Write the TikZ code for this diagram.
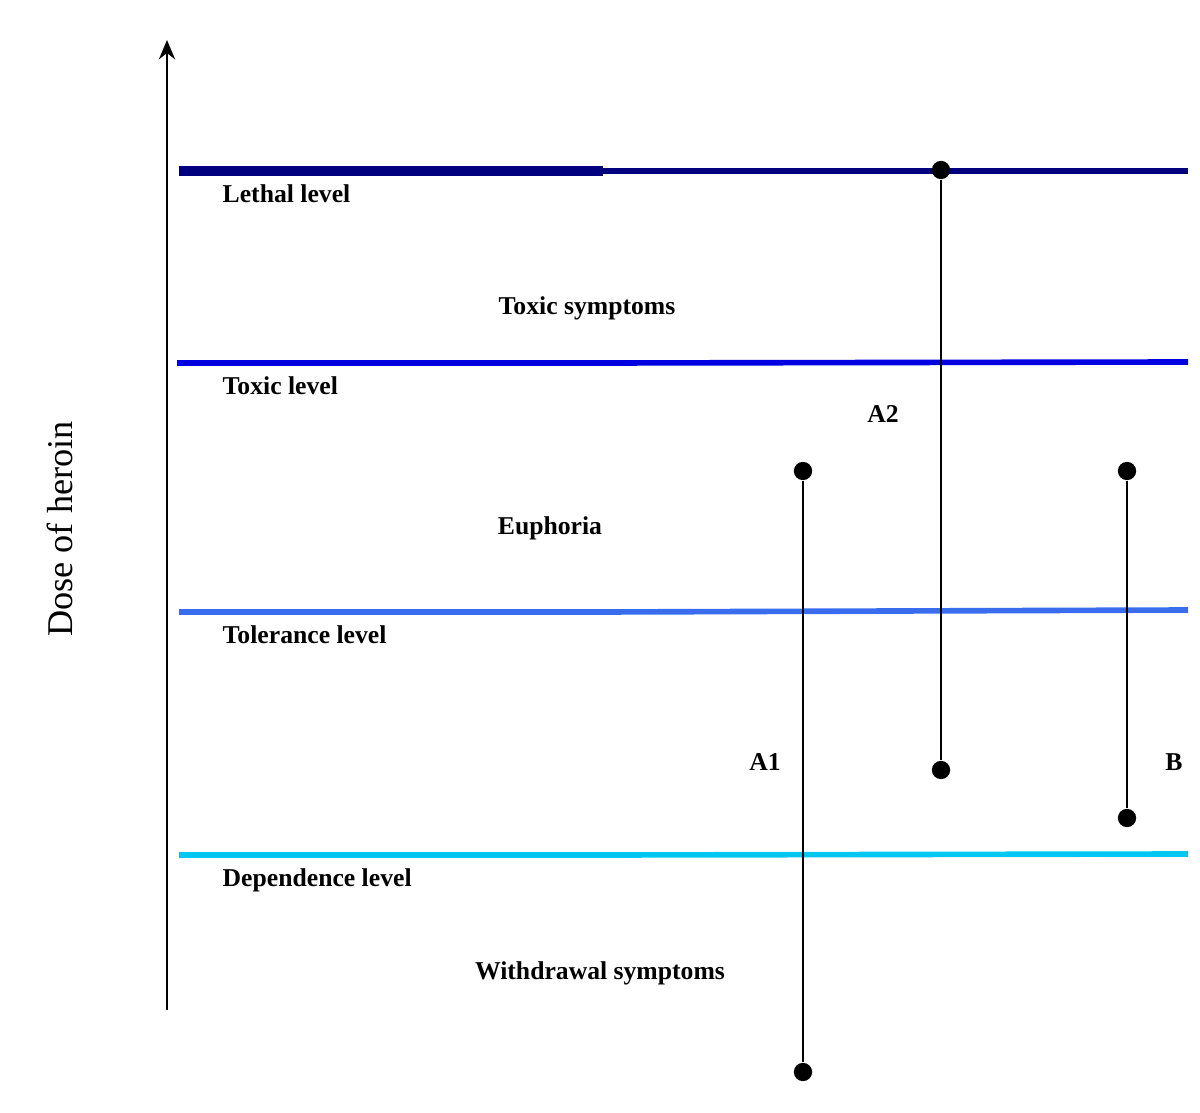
\documentclass[tikz,border=0pt]{standalone}
\usepackage{fontspec}
\setmainfont{Liberation Serif}
\usetikzlibrary{arrows.meta}

\definecolor{lethalblue}{HTML}{00007F}
\definecolor{toxicblue}{HTML}{0000E0}
\definecolor{tolblue}{HTML}{3A6CEE}
\definecolor{depblue}{HTML}{00C6F2}

\tikzset{
	dot/.style={circle, fill=black, inner sep=0pt, minimum size=5.2pt},
	lvl/.style={font=\bfseries\fontsize{7.3}{9}\selectfont, inner sep=0pt},
	thick part/.style={line width=1.9pt},
	thin part/.style={line width=1.6pt},
	rangeline/.style={line width=0.75pt}
}

\begin{document}
\begin{tikzpicture}[x=0.01cm, y=-0.01cm]
	\useasboundingbox (0, 0) rectangle (1200, 1113);
	
	% dose axis
	\coordinate (yA) at (167, 1010);
	\coordinate (yB) at (167, 40);
	\node (ylab) [rotate=90, inner sep=0pt, font=\fontsize{10.3}{12}\selectfont] at (60, 529) {Dose of heroin};
	\draw[line width=0.8pt, -{Stealth[length=5.5pt, width=4.6pt]}] (yA) -- (yB);
	
	% levels
	\coordinate (lethA) at (179, 171);
	\coordinate (lethM) at (603, 171);
	\coordinate (lethB) at (1188, 171);
	
	\coordinate (toxA) at (177, 363);
	\coordinate (toxM) at (603, 363);
	\coordinate (toxB) at (1188, 362);
	
	\coordinate (tolA) at (179, 612);
	\coordinate (tolM) at (603, 612);
	\coordinate (tolB) at (1188, 610);
	
	\coordinate (depA) at (179, 855);
	\coordinate (depM) at (603, 855);
	\coordinate (depB) at (1188, 854);
	
	\draw[lethalblue, line width=2.8pt] (lethA) -- (lethM);
	\draw[lethalblue, thin part] (lethM) -- (lethB);
	\draw[toxicblue, thick part] (toxA) -- (toxM);
	\draw[toxicblue, thin part] (toxM) -- (toxB);
	\draw[tolblue, thick part] (tolA) -- (tolM);
	\draw[tolblue, thin part] (tolM) -- (tolB);
	\draw[depblue, thick part] (depA) -- (depM);
	\draw[depblue, thin part] (depM) -- (depB);
	
	\node (lethlab) [lvl, anchor=base west] at (222, 203) {Lethal level};
	\node (toxsym) [lvl, anchor=base] at (587, 315) {Toxic symptoms};
	\node (toxlab) [lvl, anchor=base west] at (222, 395) {Toxic level};
	\node (euph) [lvl, anchor=base] at (550, 535) {Euphoria};
	\node (tollab) [lvl, anchor=base west] at (222, 643) {Tolerance level};
	\node (deplab) [lvl, anchor=base west] at (222, 886) {Dependence level};
	\node (withsym) [lvl, anchor=base] at (600, 979) {Withdrawal symptoms};
	
	% ranges
	\node (a1top) [dot] at (803, 471) {};
	\node (a1bot) [dot] at (803, 1072) {};
	\node (a2top) [dot] at (941, 170) {};
	\node (a2bot) [dot] at (941, 770) {};
	\node (btop) [dot] at (1127, 471) {};
	\node (bbot) [dot] at (1127, 818) {};
	
	\node (a1lab) [lvl, anchor=base] at (765, 771) {A1};
	\node (a2lab) [lvl, anchor=base] at (883, 423) {A2};
	\node (blab) [lvl, anchor=base] at (1174, 771) {B};
	
	\path[rangeline]
	(a1top) edge (a1bot)
	(a2top) edge (a2bot)
	(btop) edge (bbot);
	
\end{tikzpicture}
\end{document}
